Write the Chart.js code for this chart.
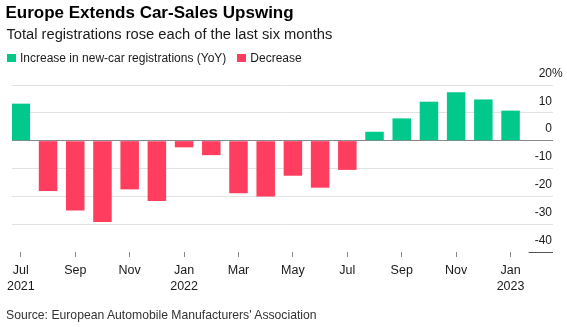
<!DOCTYPE html>
<html>
<head>
<meta charset="utf-8">
<script src="https://cdn.jsdelivr.net/npm/chart.js@4.4.1/dist/chart.umd.min.js"></script>
<style>
  html, body { margin: 0; padding: 0; background: #fff; }
  body { width: 567px; height: 327px; position: relative; overflow: hidden;
         font-family: "Liberation Sans", Arial, sans-serif; }
  #chart { position: absolute; left: 0; top: 0; }
  .txt { position: absolute; white-space: nowrap; }
  #title { left: 5.5px; top: 4px; font-weight: bold; font-size: 17px; line-height: 17px; color: #000; }
  #subtitle { left: 6.5px; top: 27px; font-size: 14.7px; line-height: 14px; color: #1a1a1a; }
  #legend { left: 7px; top: 52px; font-size: 12px; line-height: 12px; color: #1a1a1a; display: flex; align-items: center; }
  #legend .sw { display: inline-block; width: 8.5px; height: 8.5px; margin-right: 4.5px; }
  #legend .item { display: flex; align-items: center; margin-right: 11px; }
  #source { left: 6px; top: 308.5px; font-size: 12.2px; line-height: 12px; color: #333; }
</style>
</head>
<body>
<canvas id="chart" width="567" height="327"></canvas>
<div id="title" class="txt">Europe Extends Car-Sales Upswing</div>
<div id="subtitle" class="txt">Total registrations rose each of the last six months</div>
<div id="legend" class="txt"></div>
<div id="source" class="txt">Source: European Automobile Manufacturers' Association</div>
<script>
// ---- Data ----
const categories = ['Jul 2021','Aug 2021','Sep 2021','Oct 2021','Nov 2021','Dec 2021',
  'Jan 2022','Feb 2022','Mar 2022','Apr 2022','May 2022','Jun 2022','Jul 2022',
  'Aug 2022','Sep 2022','Oct 2022','Nov 2022','Dec 2022','Jan 2023'];
const changes = [13.3, -18.1, -25.1, -29.2, -17.5, -21.7, -2.4, -5.2, -18.9, -20.1,
  -12.6, -16.9, -10.5, 3.2, 8.0, 14.0, 17.4, 14.8, 10.8];
const xTickPositions = [0, 2, 4, 6, 8, 10, 12, 14, 16, 18];
const xTickLabels = [['Jul','2021'], 'Sep', 'Nov', ['Jan','2022'], 'Mar', 'May', 'Jul', 'Sep', 'Nov', ['Jan','2023']];
const yTickValues = [-40, -30, -20, -10, 0, 10, 20];
const yTickLabels = ['-40', '-30', '-20', '-10', '0', '10', '20'];
const legendLabels = ['Increase in new-car registrations (YoY)', 'Decrease'];

// ---- Styles ----
const GREEN = '#00c98b';
const RED = '#ff3d5e';
const GRID = '#e2e2e2';
const ZERO = '#8a8a8a';
const TEXT = '#1a1a1a';
const FONT = '"Liberation Sans", Arial, sans-serif';

// HTML legend
const legendEl = document.getElementById('legend');
[GREEN, RED].forEach((c, i) => {
  const item = document.createElement('span');
  item.className = 'item';
  const sw = document.createElement('span');
  sw.className = 'sw';
  sw.style.background = c;
  item.appendChild(sw);
  item.appendChild(document.createTextNode(legendLabels[i]));
  legendEl.appendChild(item);
});

const yMin = yTickValues[0];
const yMax = yTickValues[yTickValues.length - 1];

const extras = {
  id: 'extras',
  afterDraw(chart) {
    const ys = chart.scales.y;
    const ctx = chart.ctx;
    const items = ys.getLabelItems();
    const topIdx = ys.ticks.findIndex(t => t.value === yMax);
    const botIdx = ys.ticks.findIndex(t => t.value === yMin);
    ctx.save();
    if (topIdx >= 0 && items[topIdx]) {
      const it = items[topIdx];
      const [tx, ty] = it.options.translation;
      ctx.font = it.font.string;
      ctx.fillStyle = TEXT;
      ctx.textAlign = 'left';
      ctx.textBaseline = 'middle';
      ctx.fillText('%', tx, ty + (it.textOffset || 0));
    }
    if (botIdx >= 0 && items[botIdx]) {
      const it = items[botIdx];
      const [tx] = it.options.translation;
      ctx.font = it.font.string;
      const w = ctx.measureText(it.label).width;
      const py = Math.round(ys.getPixelForValue(yMin)) + 0.5;
      ctx.strokeStyle = '#555';
      ctx.lineWidth = 1;
      ctx.beginPath();
      ctx.moveTo(tx - w - 6, py);
      ctx.lineTo(chart.chartArea.right, py);
      ctx.stroke();
    }
    ctx.restore();
  }
};

new Chart(document.getElementById('chart'), {
  type: 'bar',
  data: {
    labels: categories,
    datasets: [{
      label: 'YoY change',
      data: changes.map((v, i) => ({ x: i, y: v })),
      backgroundColor: changes.map(v => v >= 0 ? GREEN : RED),
      borderWidth: 0,
      categoryPercentage: 1,
      barPercentage: 0.68
    }]
  },
  options: {
    responsive: false,
    animation: false,
    devicePixelRatio: 1,
    layout: { padding: { left: 12, right: 14, top: 85, bottom: 26 } },
    plugins: { legend: { display: false }, title: { display: false }, tooltip: { enabled: false } },
    scales: {
      x: {
        type: 'linear',
        offset: false,
        min: -0.325,
        max: 19.56,
        afterBuildTicks: (scale) => { scale.ticks = xTickPositions.map(v => ({ value: v })); },
        grid: { display: true, offset: false, drawOnChartArea: false, drawTicks: true, tickLength: 5, color: '#8a8a8a', lineWidth: 1 },
        border: { display: false },
        ticks: {
          autoSkip: false, maxRotation: 0, minRotation: 0, padding: 6,
          color: TEXT,
          font: { family: FONT, size: 12.5, lineHeight: 1.28 },
          callback: (value) => {
            const k = xTickPositions.indexOf(value);
            return k >= 0 ? xTickLabels[k] : '';
          }
        }
      },
      y: {
        type: 'linear',
        position: 'right',
        offset: false,
        min: yMin,
        max: yMax,
        afterBuildTicks: (scale) => { scale.ticks = yTickValues.map(v => ({ value: v })); },
        grid: {
          drawTicks: false,
          lineWidth: 1,
          color: (c) => c.tick && c.tick.value === 0 ? ZERO : (c.tick && c.tick.value === yMin ? 'rgba(0,0,0,0)' : GRID)
        },
        border: { display: false },
        ticks: {
          mirror: true,
          padding: -1,
          labelOffset: -11.5,
          color: TEXT,
          font: { family: FONT, size: 12 },
          callback: (value) => {
            const k = yTickValues.indexOf(value);
            return k >= 0 ? yTickLabels[k] : '';
          }
        }
      }
    }
  },
  plugins: [extras]
});
</script>
</body>
</html>
